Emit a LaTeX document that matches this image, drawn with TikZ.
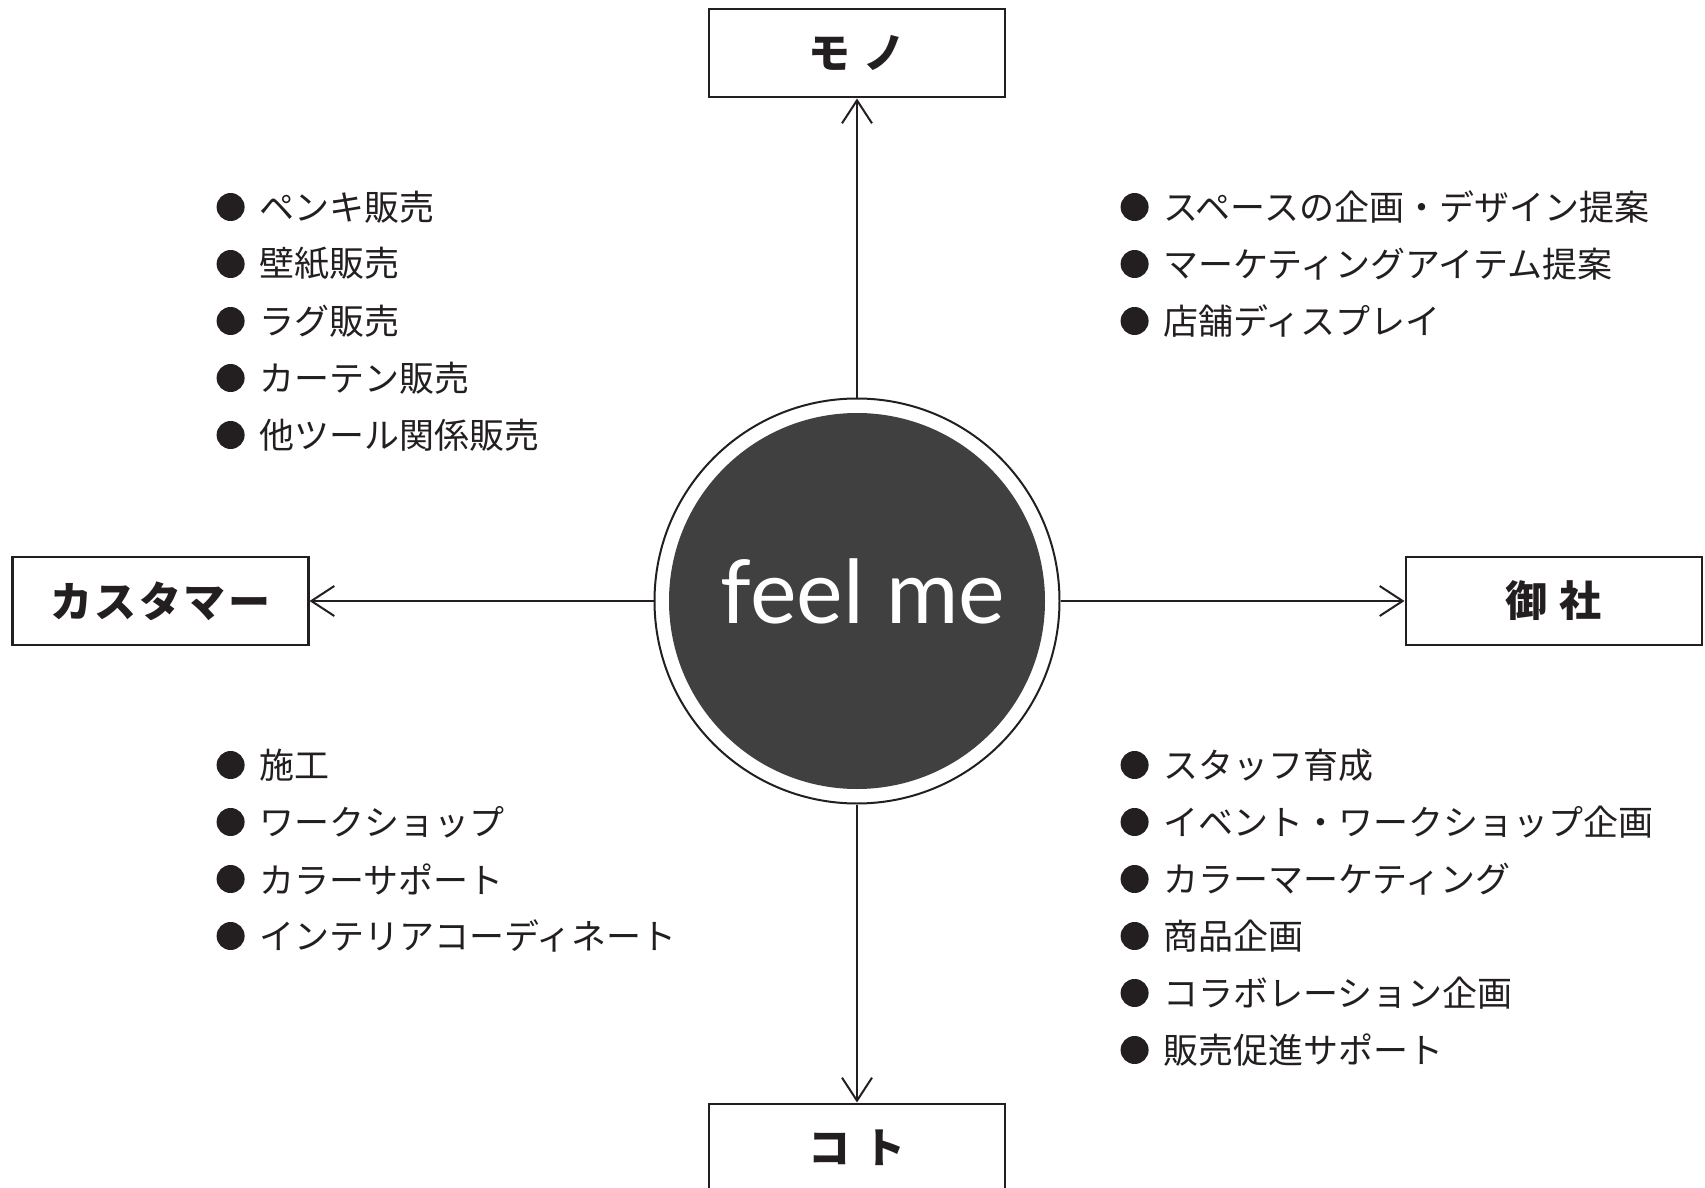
\documentclass[tikz,border=0pt]{standalone}
\usepackage{fontspec}
\setmainfont{Noto Sans CJK JP}
\newfontfamily\brandfont{Lato}
\usepackage{xcolor}
\usepackage{tikz}
\usetikzlibrary{arrows.meta,positioning}
\definecolor{ink}{HTML}{231F20}
\definecolor{hubgray}{HTML}{404040}
\tikzstyle{block} = [rectangle, draw=ink, line width=1.25pt, inner sep=0pt,
    minimum width=148pt, minimum height=44pt, text=ink,
    font=\fontsize{21pt}{21pt}\selectfont\bfseries\addfontfeature{LetterSpace=6}]
\tikzstyle{hub} = [circle, draw=ink, line width=1pt, fill=white, minimum size=202.5pt,
    path picture={\fill[hubgray] (path picture bounding box.center) circle (94pt);}]
\tikzstyle{bullet} = [circle, fill=ink, inner sep=0pt, minimum size=14pt]
\tikzstyle{item} = [anchor=west, inner sep=0pt, text=ink,
    font=\fontsize{17.5pt}{17.5pt}\selectfont,
    label={[bullet, label distance=7pt]left:{}}]
\tikzstyle{line} = [draw=ink, line width=1pt, -{Straight Barb[length=11.5pt, width=15pt]}]

\begin{document}
\begin{tikzpicture}[x=0.5pt, y=-0.5pt]
    \useasboundingbox (0,0) rectangle (1705,1188);
    % Place nodes
    \node [hub] (hub) at (857,601) {};
    \node [anchor=base, text=white, font=\fontsize{44pt}{44pt}\selectfont\brandfont] (brand) at (863,623) {feel me};
    \node [block, above=149.5pt of hub] (mono) {モ ノ};
    \node [block, below=149pt of hub] (koto) {コ ト};
    \node [block, left=172pt of hub] (customer) {カスタマー};
    \node [block, right=172pt of hub] (client) {御 社};

    % Lists
    \node [item] (mono1) at (259,207) {ペンキ販売};
    \node [item] (mono2) at (259,264) {壁紙販売};
    \node [item] (mono3) at (259,321) {ラグ販売};
    \node [item] (mono4) at (259,378) {カーテン販売};
    \node [item] (mono5) at (259,435) {他ツール関係販売};

    \node [item] (space1) at (1163,207) {スペースの企画・デザイン提案};
    \node [item] (space2) at (1163,264) {マーケティングアイテム提案};
    \node [item] (space3) at (1163,321) {店舗ディスプレイ};

    \node [item] (koto1) at (259,765) {施工};
    \node [item] (koto2) at (259,822) {ワークショップ};
    \node [item] (koto3) at (259,879) {カラーサポート};
    \node [item] (koto4) at (259,936) {インテリアコーディネート};

    \node [item] (plan1) at (1163,765) {スタッフ育成};
    \node [item] (plan2) at (1163,822) {イベント・ワークショップ企画};
    \node [item] (plan3) at (1163,879) {カラーマーケティング};
    \node [item] (plan4) at (1163,936) {商品企画};
    \node [item] (plan5) at (1163,993) {コラボレーション企画};
    \node [item] (plan6) at (1163,1050) {販売促進サポート};

    % Draw edges
    \path [line] (hub) -- (mono);
    \path [line] (hub) -- (koto);
    \path [line] (hub) -- (customer);
    \path [line] (hub) -- (client);
\end{tikzpicture}
\end{document}
